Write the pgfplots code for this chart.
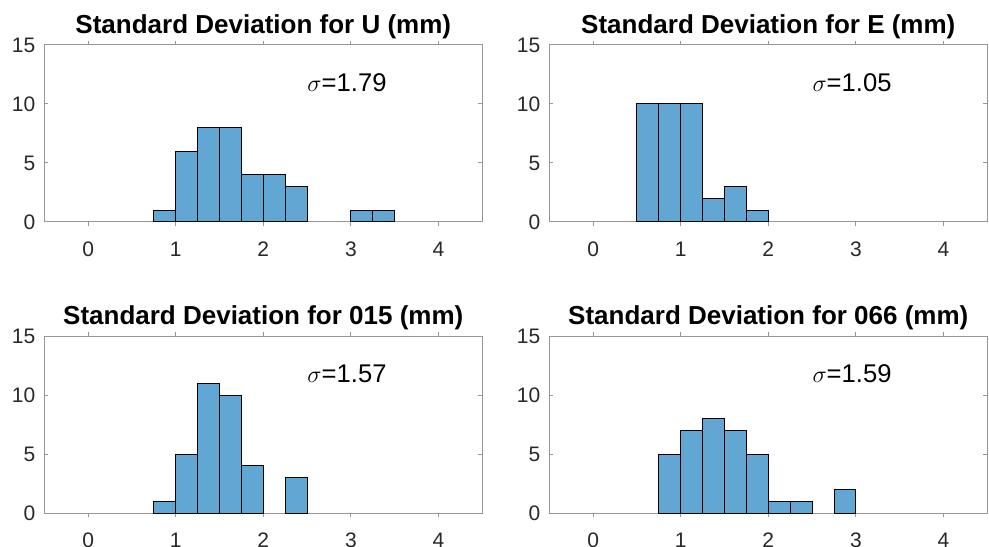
\documentclass[border=0pt]{standalone}
\usepackage{fontspec}
\setmainfont{Liberation Sans}
\usepackage{pgfplots}
\pgfplotsset{compat=1.18}

\definecolor{barblue}{RGB}{98,166,212}
\definecolor{axgray}{RGB}{150,150,150}
\definecolor{lblgray}{RGB}{40,40,40}

\pgfplotsset{
  hist/.style={
    scale only axis, width=219pt, height=88.5pt,
    anchor=south west,
    xmin=-0.5, xmax=4.5, ymin=0, ymax=15,
    xtick={0,1,2,3,4}, ytick={0,5,10,15},
    axis line style={axgray, line width=0.5pt},
    major tick style={axgray, line width=0.5pt},
    major tick length=2pt, tick align=inside,
    /pgf/number format/assume math mode=true,
    tick label style={font=\fontsize{10.5}{12}\selectfont, text=lblgray},
    xticklabel style={yshift=-4.3pt},
    yticklabel style={xshift=-1pt},
    title style={font=\fontsize{13}{15}\bfseries\selectfont, yshift=-6.5pt},
    ybar, bar width=0.25, bar shift=0,
  },
  bars/.style={fill=barblue, draw=black, line width=0.5pt},
}
\tikzset{sig/.style={anchor=base west, inner sep=0, font=\fontsize{12.8}{15}\selectfont}}

\begin{document}
\begin{tikzpicture}
\useasboundingbox (0,0) rectangle (494.5pt,273pt);

\begin{axis}[hist, at={(22.15pt,162pt)}, title={Standard Deviation for U (mm)}]
\addplot[bars] coordinates {
  (0.875,1) (1.125,6) (1.375,8) (1.625,8) (1.875,4) (2.125,4) (2.375,3) (3.125,1) (3.375,1)
};
\node[sig] at (axis cs:2.5,11.05) {$\sigma$=1.79};
\end{axis}

\begin{axis}[hist, at={(274.65pt,162pt)}, title={Standard Deviation for E (mm)}]
\addplot[bars] coordinates {
  (0.625,10) (0.875,10) (1.125,10) (1.375,2) (1.625,3) (1.875,1)
};
\node[sig] at (axis cs:2.5,11.05) {$\sigma$=1.05};
\end{axis}

\begin{axis}[hist, at={(22.15pt,16.5pt)}, title={Standard Deviation for 015 (mm)}]
\addplot[bars] coordinates {
  (0.875,1) (1.125,5) (1.375,11) (1.625,10) (1.875,4) (2.375,3)
};
\node[sig] at (axis cs:2.5,11.05) {$\sigma$=1.57};
\end{axis}

\begin{axis}[hist, at={(274.65pt,16.5pt)}, title={Standard Deviation for 066 (mm)}]
\addplot[bars] coordinates {
  (0.875,5) (1.125,7) (1.375,8) (1.625,7) (1.875,5) (2.125,1) (2.375,1) (2.875,2)
};
\node[sig] at (axis cs:2.5,11.05) {$\sigma$=1.59};
\end{axis}
\end{tikzpicture}
\end{document}
